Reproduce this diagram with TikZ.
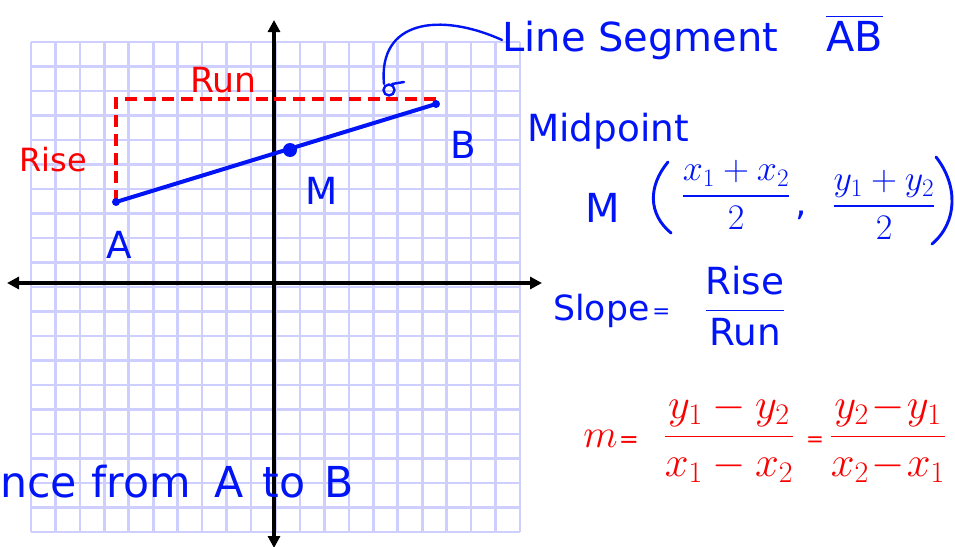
\RequirePackage{fix-cm}
\documentclass[tikz,border=0pt]{standalone}
\usepackage{amsmath}
\usepackage{fontspec}
\setmainfont{DejaVu Sans}
\usetikzlibrary{arrows.meta}
\definecolor{gridc}{RGB}{206,206,255}
\definecolor{inkblue}{RGB}{0,20,245}
\definecolor{inkred}{RGB}{250,0,0}
\tikzset{
  gridline/.style={draw=gridc, line width=2pt},
  axisline/.style={draw=black, line width=2.4pt, {Triangle[length=9pt,width=9pt]}-{Triangle[length=9pt,width=9pt]}},
  segline/.style={draw=inkblue, line width=3pt},
  rundash/.style={draw=inkred, line width=2.4pt, dash pattern=on 9pt off 5pt},
  bluetxt/.style={text=inkblue, inner sep=0pt},
  redtxt/.style={text=inkred, inner sep=0pt},
  hook/.style={draw=inkblue, line width=1.8pt, line cap=round},
  paren/.style={draw=inkblue, line width=2.2pt, line cap=round},
}
\begin{document}
\begin{tikzpicture}[x=0.75pt,y=-0.75pt]
\useasboundingbox (0,0) rectangle (955,546);
\clip (0,0) rectangle (955,546);
\fill[white] (0,0) rectangle (955,546);
% grid
\foreach \i in {0,...,20}{
  \draw[gridline] ({31+\i*24.45},42) -- ({31+\i*24.45},532);
  \draw[gridline] (31,{42+\i*24.5}) -- (520,{42+\i*24.5});
}
% axes
\coordinate (xl) at (7,283);
\coordinate (xr) at (542,283);
\coordinate (yt) at (274,20);
\coordinate (yb) at (274,548);
\draw[axisline] (xl) -- (xr);
\draw[axisline] (yt) -- (yb);
% points
\coordinate (A) at (116,202);
\coordinate (B) at (436,104);
\coordinate (M) at (290,150);
\coordinate (C) at (116,99);
\draw[rundash] (A) -- (C) -- (C -| B);
\draw[segline] (A) -- (B);
\fill[inkblue] (A) circle (4);
\fill[inkblue] (B) circle (4);
\fill[inkblue] (M) circle (7);
% labels on graph
\node[bluetxt, font=\fontsize{28}{32}\selectfont, anchor=base west] (lA) at (106,258) {A};
\node[bluetxt, font=\fontsize{28}{32}\selectfont, anchor=base west] (lB) at (450,158) {B};
\node[bluetxt, font=\fontsize{28}{32}\selectfont, anchor=base west] (lM) at (305,204) {M};
\node[redtxt, font=\fontsize{24}{28}\selectfont, anchor=base west] (lrise) at (19,171) {Rise};
\node[redtxt, font=\fontsize{26}{30}\selectfont, anchor=base west] (lrun) at (190,92) {Run};
% line segment label and hook
\node[bluetxt, font=\fontsize{30}{36}\selectfont, anchor=base west] (seg) at (502,51) {Line Segment};
\node[bluetxt, font=\fontsize{31}{36}\selectfont, anchor=base west] (ab) at (826,51) {$\overline{\mbox{AB}}$};
\coordinate (hk) at (384,84);
\draw[hook] (seg.west) .. controls (440,12) and (378,20) .. (hk);
\draw[hook] (389,90) circle (5.5);
\draw[hook] (392,84) -- (404,82);
% midpoint
\node[bluetxt, font=\fontsize{28}{34}\selectfont, anchor=base west] (mid) at (527,141) {Midpoint};
\node[bluetxt, font=\fontsize{30}{34}\selectfont, anchor=base west] (midM) at (585,222) {M};
\draw[paren] (668,162) .. controls (648,186) and (648,214) .. (671,233);
\node[bluetxt, font=\fontsize{27}{32}\selectfont, anchor=base] (mf1) at (736,205) {$\dfrac{x_1+x_2}{2}$};
\node[bluetxt, font=\fontsize{27}{32}\selectfont, anchor=base] (mcomma) at (801,215) {,};
\node[bluetxt, font=\fontsize{27}{32}\selectfont, anchor=base] (mf2) at (884,215) {$\dfrac{y_1+y_2}{2}$};
\draw[paren] (936,157) .. controls (958,185) and (958,222) .. (932,244);
% slope
\node[bluetxt, font=\fontsize{26}{31}\selectfont, anchor=base west] (slope) at (553,320) {Slope};
\node[bluetxt, font=\fontsize{16}{20}\selectfont, anchor=base west] (seq) at (652,318) {=};
\node[bluetxt, font=\fontsize{28}{34}\selectfont, anchor=base] (sfrac) at (745,320)
  {$\dfrac{\text{Rise}}{\text{Run}}$};
% m formula
\node[redtxt, font=\fontsize{30}{36}\selectfont, anchor=base west] (mm) at (583,447) {$m$\kern1pt{\fontsize{18}{20}\selectfont =}};
\node[redtxt, font=\fontsize{32}{40}\selectfont, anchor=base] (f1) at (729,447) {$\dfrac{y_1-y_2}{x_1-x_2}$};
\node[redtxt, font=\fontsize{16}{20}\selectfont, anchor=base] (eq2) at (815,446) {=};
\node[redtxt, font=\fontsize{32}{40}\selectfont, anchor=base west] (f2) at (829,447) {\medmuskip=1mu$\dfrac{y_2-y_1}{x_2-x_1}$};
% bottom text
\node[bluetxt, font=\fontsize{32}{38}\selectfont, anchor=base west] (dist) at (0,497)
  {nce\hspace{11pt}from\hspace{18pt}A\hspace{14pt}to\hspace{14pt}B};
\end{tikzpicture}
\end{document}
